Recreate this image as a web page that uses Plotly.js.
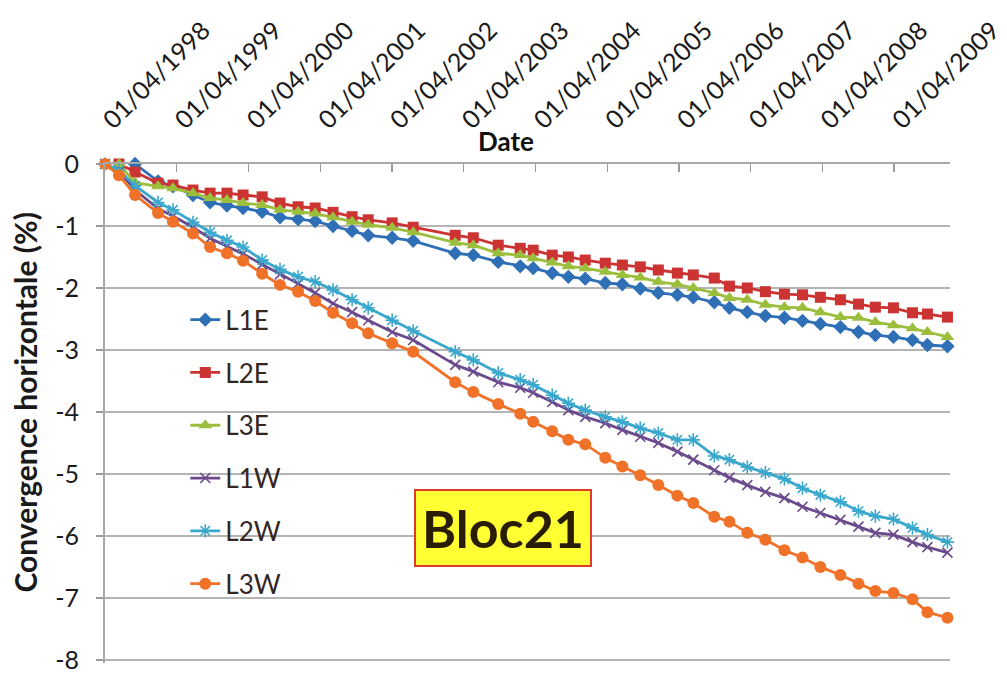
<!DOCTYPE html>
<html>
<head>
<meta charset="utf-8">
<script src="https://cdn.plot.ly/plotly-3.0.1.min.js"></script>
<style>
  html, body { margin: 0; padding: 0; background: #ffffff; }
  #chart { width: 1007px; height: 673px; }
</style>
</head>
<body>
<div id="chart"></div>
<script>
// Measurement dates (shared by all series)
const dates = [
  '1998-04-01','1998-06-11','1998-09-01','1998-12-27','1999-03-13','1999-06-23','1999-09-18','1999-12-13',
  '2000-03-04','2000-06-09','2000-09-08','2000-12-09','2001-03-06','2001-06-05','2001-09-10','2001-12-01',
  '2002-04-02','2002-07-18','2003-02-17','2003-05-20','2003-09-24','2004-01-14','2004-03-20','2004-06-25',
  '2004-09-15','2004-12-10','2005-03-22','2005-06-17','2005-09-16','2005-12-17','2006-03-24','2006-06-13',
  '2006-09-28','2006-12-14','2007-03-15','2007-06-15','2007-09-20','2007-12-21','2008-03-21','2008-07-01',
  '2008-10-01','2008-12-26','2009-03-28','2009-07-03','2009-09-17','2009-12-28'
];

const L1E = [null, null, 0, -0.28, -0.36, -0.5, -0.62, -0.67, -0.71, -0.77, -0.86, -0.89, -0.92, -1.0, -1.08, -1.15,
  -1.19, -1.24, -1.44, -1.47, -1.58, -1.65, -1.68, -1.76, -1.82, -1.85, -1.92, -1.94, -2.01, -2.08, -2.11, -2.15,
  -2.23, -2.32, -2.39, -2.45, -2.48, -2.53, -2.58, -2.63, -2.71, -2.76, -2.79, -2.84, -2.92, -2.94];

const L2E = [null, 0, -0.13, -0.31, -0.34, -0.42, -0.47, -0.47, -0.5, -0.53, -0.63, -0.69, -0.71, -0.78, -0.85, -0.9,
  -0.95, -1.02, -1.15, -1.19, -1.31, -1.36, -1.39, -1.47, -1.5, -1.55, -1.6, -1.63, -1.66, -1.71, -1.76, -1.79,
  -1.84, -1.97, -2.0, -2.06, -2.1, -2.11, -2.15, -2.19, -2.26, -2.31, -2.32, -2.4, -2.42, -2.47];

const L3E = [null, 0, -0.3, -0.36, -0.39, -0.47, -0.55, -0.58, -0.63, -0.66, -0.74, -0.77, -0.8, -0.86, -0.93, -0.98,
  -1.03, -1.1, -1.27, -1.31, -1.44, -1.47, -1.52, -1.59, -1.65, -1.68, -1.74, -1.79, -1.83, -1.9, -1.94, -2.0,
  -2.08, -2.16, -2.19, -2.27, -2.31, -2.32, -2.39, -2.47, -2.48, -2.55, -2.6, -2.65, -2.71, -2.79];

const L1W = [0, -0.12, -0.42, -0.72, -0.84, -1.02, -1.2, -1.33, -1.45, -1.62, -1.78, -1.93, -2.08, -2.25, -2.39, -2.52,
  -2.71, -2.84, -3.24, -3.35, -3.52, -3.61, -3.69, -3.84, -3.97, -4.08, -4.18, -4.29, -4.4, -4.5, -4.64, -4.77,
  -4.94, -5.06, -5.18, -5.29, -5.39, -5.53, -5.63, -5.74, -5.85, -5.95, -5.98, -6.1, -6.18, -6.27];

const L2W = [0, -0.1, -0.35, -0.62, -0.74, -0.94, -1.1, -1.23, -1.34, -1.55, -1.7, -1.82, -1.9, -2.03, -2.19, -2.32,
  -2.52, -2.69, -3.03, -3.16, -3.37, -3.48, -3.56, -3.73, -3.86, -3.97, -4.08, -4.16, -4.26, -4.34, -4.45, -4.45,
  -4.71, -4.77, -4.89, -4.98, -5.08, -5.23, -5.34, -5.45, -5.6, -5.68, -5.73, -5.87, -5.98, -6.1];

const L3W = [0, -0.18, -0.5, -0.79, -0.93, -1.12, -1.34, -1.44, -1.56, -1.77, -1.95, -2.06, -2.21, -2.4, -2.57, -2.73,
  -2.89, -3.03, -3.52, -3.68, -3.87, -4.03, -4.16, -4.31, -4.45, -4.52, -4.74, -4.88, -5.02, -5.18, -5.35, -5.47,
  -5.69, -5.77, -5.95, -6.06, -6.23, -6.35, -6.5, -6.63, -6.77, -6.89, -6.92, -7.02, -7.23, -7.32];

const seriesNames = ['L1E', 'L2E', 'L3E', 'L1W', 'L2W', 'L3W'];
const seriesValues = [L1E, L2E, L3E, L1W, L2W, L3W];

const tickDates = ['1998-04-01','1999-04-01','2000-04-01','2001-04-01','2002-04-01','2003-04-01',
  '2004-04-01','2005-04-01','2006-04-01','2007-04-01','2008-04-01','2009-04-01'];
const tickLabels = ['01/04/1998','01/04/1999','01/04/2000','01/04/2001','01/04/2002','01/04/2003',
  '01/04/2004','01/04/2005','01/04/2006','01/04/2007','01/04/2008','01/04/2009'];

const yTickVals = [0, -1, -2, -3, -4, -5, -6, -7, -8];
const yTickLabels = ['0', '-1', '-2', '-3', '-4', '-5', '-6', '-7', '-8'];

const styles = [
  {color: '#2e6fb5', marker: {symbol: 'diamond', size: 11}},
  {color: '#cc3333', marker: {symbol: 'square', size: 11}},
  {color: '#9bbf3c', marker: {symbol: 'triangle-up', size: 12}},
  {color: '#6a4a8c', marker: {symbol: 'x-thin-open', size: 10, line: {width: 1.6}}},
  {color: '#3aa8cc', marker: {symbol: 'asterisk-open', size: 11, line: {width: 1.6}}},
  {color: '#f07228', marker: {symbol: 'circle', size: 12}}
];

const traces = seriesNames.map((name, i) => {
  const st = styles[i];
  const mk = Object.assign({color: st.color}, st.marker);
  if (mk.line) mk.line = Object.assign({color: st.color}, mk.line);
  return {
    type: 'scatter', mode: 'lines+markers', name: name, legendgroup: name,
    x: dates, y: seriesValues[i],
    line: {color: st.color, width: 2.8},
    marker: mk, cliponaxis: false
  };
});

const FONT = 'Lato, "Open Sans", Arial, sans-serif';
const layout = {
  width: 1007, height: 673,
  margin: {l: 105, r: 57, t: 164, b: 10},
  paper_bgcolor: '#ffffff', plot_bgcolor: '#ffffff',
  showlegend: true,
  font: {family: FONT, color: '#1a1a1a'},
  xaxis: {
    type: 'date', side: 'top',
    range: ['1998-04-01', '2010-01-10'],
    tickvals: tickDates, ticktext: tickLabels,
    tickangle: -45, tickfont: {size: 25, color: '#1a1a1a', family: FONT},
    ticks: 'inside', ticklen: 8, tickwidth: 1.5, tickcolor: '#9a9a9a',
    ticklabelstandoff: 18, ticklabeloverflow: 'allow',
    showline: true, linecolor: '#a8a8a8', linewidth: 2,
    showgrid: false, zeroline: false, automargin: false
  },
  yaxis: {
    range: [-8.05, 0],
    tickvals: yTickVals, ticktext: yTickLabels,
    tickfont: {size: 25, color: '#1a1a1a', family: FONT},
    ticks: 'outside', ticklen: 7, tickwidth: 1.5, tickcolor: '#9a9a9a',
    ticklabelstandoff: 12, ticklabeloverflow: 'allow',
    showline: true, linecolor: '#a8a8a8', linewidth: 2,
    showgrid: true, gridcolor: '#b4b4b4', gridwidth: 2,
    zeroline: false, automargin: false
  },
  legend: {
    x: 0.095, y: 0.735, xanchor: 'left', yanchor: 'top',
    bgcolor: 'rgba(0,0,0,0)', borderwidth: 0,
    font: {size: 26, family: FONT, color: '#33251f'},
    tracegroupgap: 16, traceorder: 'grouped'
  },
  annotations: [
    {
      text: '<b>Date</b>', xref: 'paper', yref: 'paper', x: 0.474, y: 1, yshift: 23,
      showarrow: false, xanchor: 'center', yanchor: 'middle',
      font: {size: 26, family: FONT, color: '#111111'}
    },
    {
      text: '<b>Convergence horizontale (%)</b>', xref: 'paper', yref: 'paper', x: 0, xshift: -80, y: 0.522,
      showarrow: false, xanchor: 'center', yanchor: 'middle', textangle: -90,
      font: {size: 30, family: FONT, color: '#1a1a1a'}
    },
    {
      text: '<b>Bloc21</b>', xref: 'paper', yref: 'paper', x: 0.471, y: 0.2705,
      showarrow: false, xanchor: 'center', yanchor: 'middle',
      font: {size: 52, family: FONT, color: '#2a1d08'},
      bgcolor: '#ffff33', bordercolor: '#e03a2a', borderwidth: 2, borderpad: 6
    }
  ]
};

Plotly.newPlot('chart', traces, layout, {staticPlot: true, displayModeBar: false});
</script>
</body>
</html>
